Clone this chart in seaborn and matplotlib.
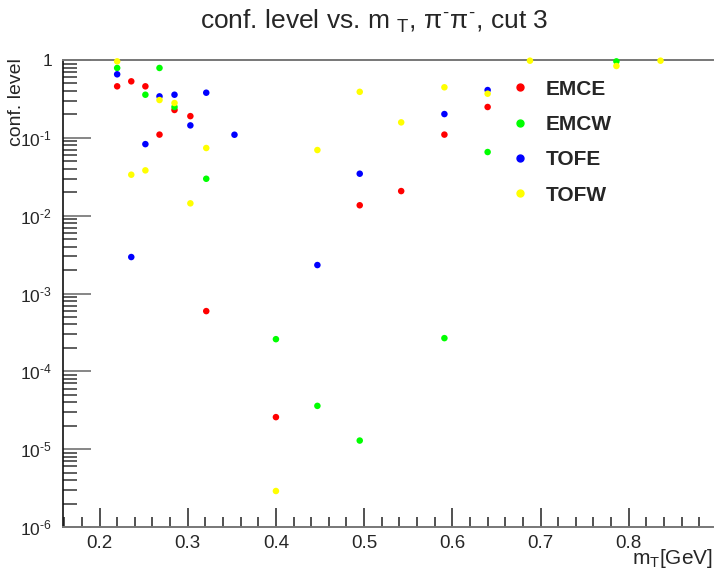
import numpy as np
import pandas as pd
import matplotlib
matplotlib.use("Agg")
import matplotlib.pyplot as plt
from matplotlib.ticker import FuncFormatter, MultipleLocator, LogLocator, NullFormatter
from matplotlib.lines import Line2D
import seaborn as sns

# --- data: confidence level per mT bin for each detector arm ---
emce_mt = [0.220, 0.236, 0.252, 0.268, 0.285, 0.303, 0.321, 0.400, 0.495, 0.542, 0.591, 0.640]
emce_cl = [0.459, 0.532, 0.459, 0.110, 0.228, 0.190, 5.94e-4, 2.58e-5, 0.0136, 0.0207, 0.110, 0.249]

emcw_mt = [0.220, 0.252, 0.268, 0.285, 0.321, 0.400, 0.447, 0.495, 0.591, 0.640, 0.786]
emcw_cl = [0.790, 0.358, 0.790, 0.249, 0.0298, 2.59e-4, 3.6e-5, 1.29e-5, 2.67e-4, 0.0657, 0.960]

tofe_mt = [0.220, 0.236, 0.252, 0.268, 0.285, 0.303, 0.321, 0.353, 0.447, 0.495, 0.591, 0.640]
tofe_cl = [0.655, 0.00294, 0.083, 0.341, 0.358, 0.1445, 0.380, 0.1096, 0.00232, 0.0346, 0.202, 0.411]

tofw_mt = [0.220, 0.236, 0.252, 0.268, 0.285, 0.303, 0.321, 0.400, 0.447, 0.495, 0.542, 0.591,
           0.640, 0.688, 0.786, 0.836]
tofw_cl = [0.960, 0.0336, 0.0382, 0.306, 0.280, 0.0144, 0.074, 2.9e-6, 0.0697, 0.390, 0.158, 0.446,
           0.369, 0.980, 0.837, 0.980]

series = ["EMCE", "EMCW", "TOFE", "TOFW"]
colors = ["#ff0000", "#00ff00", "#0000ff", "#ffff00"]

frames = []
for name, mt, cl in zip(series, [emce_mt, emcw_mt, tofe_mt, tofw_mt],
                        [emce_cl, emcw_cl, tofe_cl, tofw_cl]):
    frames.append(pd.DataFrame({"mT": mt, "cl": cl, "arm": name}))
df = pd.concat(frames, ignore_index=True)

sns.set_style("white")
plt.rcParams["font.family"] = ["Liberation Sans", "DejaVu Sans"]
plt.rcParams["mathtext.fontset"] = "custom"
plt.rcParams["mathtext.rm"] = "Liberation Sans"
plt.rcParams["mathtext.it"] = "Liberation Sans"
plt.rcParams["mathtext.bf"] = "Liberation Sans:bold"

W, H = 715, 572
fig = plt.figure(figsize=(W / 100, H / 100), dpi=100)
x0, x1, y0, y1 = 63, 713, 60, 527
ax = fig.add_axes([x0 / W, 1 - y1 / H, (x1 - x0) / W, (y1 - y0) / H])

sns.scatterplot(data=df, x="mT", y="cl", hue="arm", palette=dict(zip(series, colors)),
                s=22, linewidth=0, ax=ax, legend=False, zorder=3, clip_on=False)

ax.set_yscale("log")
ax.set_ylim(1e-6, 1)
ax.set_xlim(0.1586, 0.8955)

# axis decoration in the style of a ROOT frame
ax.spines["right"].set_visible(False)
ax.spines["top"].set_color("#777777")
ax.spines["top"].set_linewidth(1.4)
ax.spines["left"].set_color("#111111")
ax.spines["left"].set_linewidth(1.2)
ax.spines["bottom"].set_color("#777777")
ax.spines["bottom"].set_linewidth(1.4)

ax.xaxis.set_major_locator(MultipleLocator(0.1))
ax.xaxis.set_minor_locator(MultipleLocator(0.02))
ax.xaxis.set_major_formatter(FuncFormatter(lambda v, p: f"{v:.1f}"))
ax.yaxis.set_major_locator(LogLocator(base=10, numticks=10))
ax.yaxis.set_minor_locator(LogLocator(base=10, subs=np.arange(2, 10), numticks=20))
ax.yaxis.set_minor_formatter(NullFormatter())


def ylab(v, p):
    e = int(round(np.log10(v)))
    return "1" if e == 0 else r"$10^{\text{-}%d}$" % (-e)


ax.yaxis.set_major_formatter(FuncFormatter(ylab))
ax.tick_params(axis="x", which="major", direction="in", length=14, width=1.1, color="#222222",
               labelsize=13.5, pad=6, bottom=True, top=False)
ax.tick_params(axis="x", which="minor", direction="in", length=7, width=1.1, color="#222222",
               bottom=True, top=False)
ax.tick_params(axis="y", which="major", direction="in", length=20, width=1.1, color="#666666",
               labelsize=12.5, pad=8, left=True, right=False)
ax.tick_params(axis="y", which="minor", direction="in", length=10, width=1.1, color="#333333",
               left=True, right=False)
ax.set_xlabel("")
ax.set_ylabel("")

fig.text(374.5 / W, 1 - 29 / H,
         r"conf. level vs. m $_{\mathrm{T}}$, $\pi^{\text{-}}\pi^{\text{-}}$, cut 3",
         ha="center", va="baseline", fontsize=19)
fig.text(17 / W, 1 - 58 / H, "conf. level", rotation=90, ha="center", va="top", fontsize=14)
fig.text(713 / W, 1 - 558 / H, r"m$_{\mathrm{T}}$[GeV]", ha="right", va="center", fontsize=15)

handles = [Line2D([], [], marker="o", linestyle="", color=c, markersize=5) for c in colors]
leg = ax.legend(handles, series, loc="upper left", bbox_to_anchor=(489 / W, 1 - 61 / H),
                bbox_transform=fig.transFigure, frameon=False,
                prop={"weight": "bold", "size": 15}, handletextpad=0.6, labelspacing=0.78,
                handlelength=1.2)

fig.savefig("out.png", dpi=100)
